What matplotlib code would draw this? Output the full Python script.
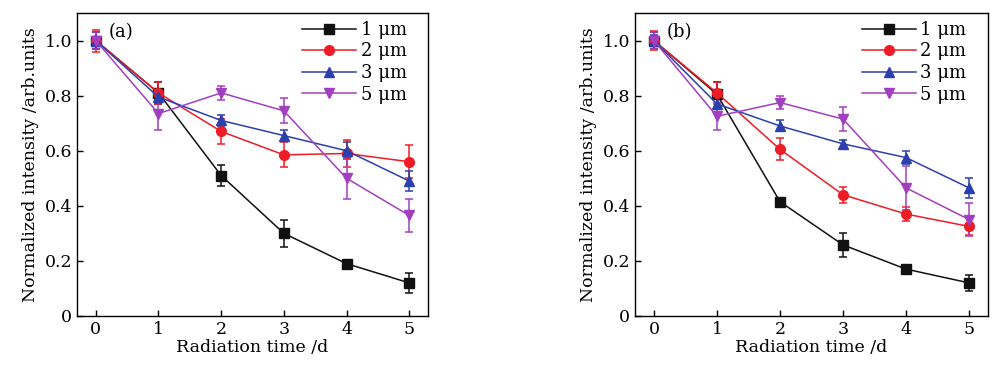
import matplotlib
matplotlib.use('Agg')
import matplotlib.pyplot as plt
from matplotlib.lines import Line2D
from matplotlib.ticker import FuncFormatter

# Radiation time (days)
days = [0, 1, 2, 3, 4, 5]
sizes = ['1 μm', '2 μm', '3 μm', '5 μm']

# Panel (a) normalized intensity and error bars
a_1um = [1.0, 0.81, 0.51, 0.30, 0.19, 0.12]
a_1um_err = [0.03, 0.04, 0.037, 0.05, 0.01, 0.035]
a_2um = [1.0, 0.81, 0.67, 0.585, 0.59, 0.56]
a_2um_err = [0.04, 0.04, 0.045, 0.045, 0.05, 0.06]
a_3um = [1.0, 0.795, 0.71, 0.655, 0.60, 0.49]
a_3um_err = [0.03, 0.02, 0.02, 0.02, 0.03, 0.035]
a_5um = [1.0, 0.735, 0.81, 0.745, 0.50, 0.365]
a_5um_err = [0.03, 0.06, 0.025, 0.045, 0.075, 0.06]

# Panel (b)
b_1um = [1.0, 0.805, 0.415, 0.258, 0.17, 0.12]
b_1um_err = [0.03, 0.045, 0.01, 0.045, 0.01, 0.03]
b_2um = [1.0, 0.81, 0.605, 0.44, 0.37, 0.325]
b_2um_err = [0.035, 0.04, 0.04, 0.03, 0.025, 0.03]
b_3um = [1.0, 0.77, 0.69, 0.625, 0.575, 0.465]
b_3um_err = [0.02, 0.02, 0.02, 0.015, 0.025, 0.035]
b_5um = [1.0, 0.725, 0.775, 0.715, 0.465, 0.35]
b_5um_err = [0.03, 0.05, 0.025, 0.045, 0.08, 0.06]

colors = ['#111111', '#ee1c25', '#2b3fae', '#a23fc0']
markers = ['s', 'o', '^', 'v']

plt.rcParams['font.family'] = ['DejaVu Serif']
plt.rcParams['mathtext.fontset'] = 'dejavuserif'

fig = plt.figure(figsize=(10, 3.73), dpi=100)
ax_a = fig.add_axes([0.077, 0.153, 0.351, 0.812])
ax_b = fig.add_axes([0.635, 0.153, 0.353, 0.812])

panels = [
    (ax_a, '(a)', [a_1um, a_2um, a_3um, a_5um],
     [a_1um_err, a_2um_err, a_3um_err, a_5um_err]),
    (ax_b, '(b)', [b_1um, b_2um, b_3um, b_5um],
     [b_1um_err, b_2um_err, b_3um_err, b_5um_err]),
]

for ax, tag, series, errs in panels:
    handles = []
    for vals, err, c, m, lab in zip(series, errs, colors, markers, sizes):
        ax.errorbar(days, vals, yerr=err, color=c, marker=m, ms=7,
                    lw=1.1, elinewidth=1.1, capsize=3, capthick=1.1)
        handles.append(Line2D([], [], color=c, marker=m, ms=7, lw=1.1,
                              label=lab))
    ax.set_xlim(-0.3, 5.3)
    ax.set_ylim(0, 1.1)
    ax.set_xticks(days)
    ax.set_yticks([0, 0.2, 0.4, 0.6, 0.8, 1.0])
    ax.yaxis.set_major_formatter(
        FuncFormatter(lambda v, p: '0' if v == 0 else '%.1f' % v))
    ax.tick_params(direction='in', labelsize=12.5, length=4, width=1)
    ax.set_xlabel('Radiation time /d', fontsize=12.5, labelpad=1)
    ax.set_ylabel('Normalized intensity /arb.units', fontsize=12.5,
                  labelpad=4)
    for sp in ax.spines.values():
        sp.set_linewidth(1.0)
    ax.text(0.09, 0.92, tag, transform=ax.transAxes, fontsize=13)
    ax.legend(handles=handles, loc='upper right',
              bbox_to_anchor=(0.97, 1.01), frameon=False,
              fontsize=13, handlelength=3.0, handletextpad=0.25,
              labelspacing=0.2, borderaxespad=0.2)

fig.savefig('out.png', dpi=100)
